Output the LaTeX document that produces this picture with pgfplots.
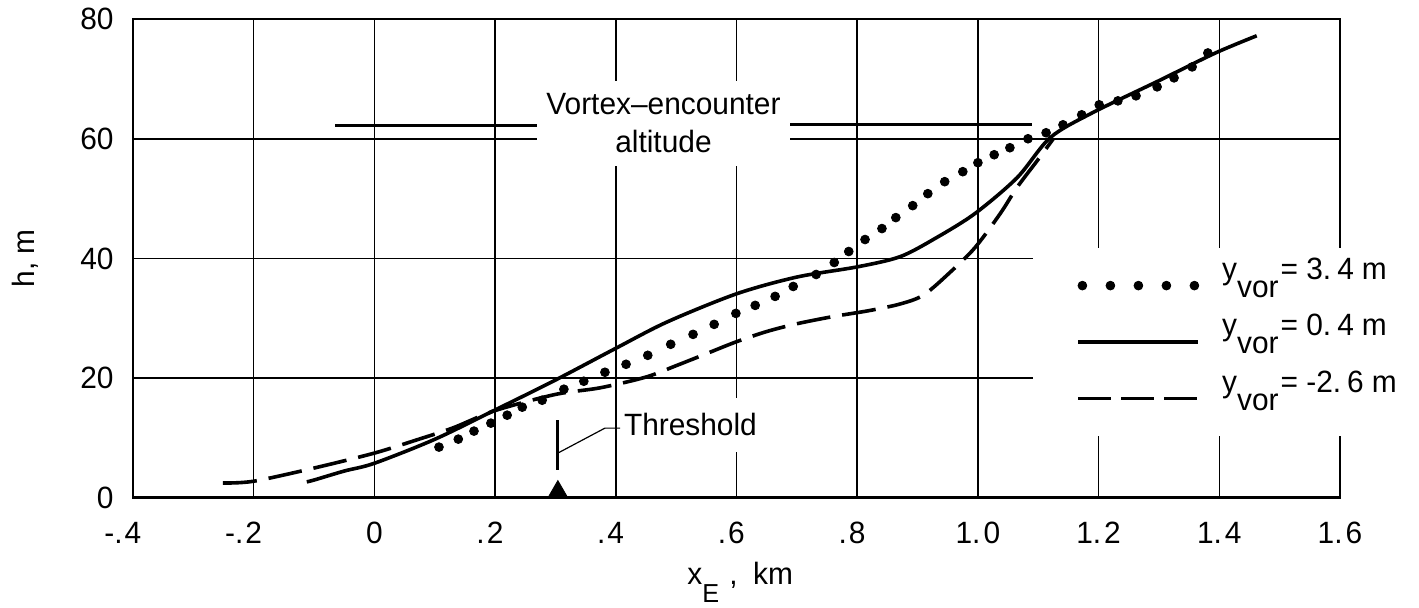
\documentclass[border=0pt]{standalone}
\usepackage{fontspec}
\setmainfont{Liberation Sans}[FakeStretch=0.97]
\usepackage{pgfplots}
\pgfplotsset{compat=1.18}
\newcommand{\fs}{\fontsize{15.4}{19}\selectfont}
\begin{document}
\begin{tikzpicture}[font=\fs]
\path[use as bounding box] (-66.5pt,-55pt) rectangle (643pt,249pt);
\begin{axis}[
  at={(0pt,0pt)}, anchor=south west,
  scale only axis, width=603.5pt, height=239.5pt,
  xmin=-0.4, xmax=1.6, ymin=0, ymax=80,
  xtick={-0.4,-0.2,0,0.2,0.4,0.6,0.8,1.0,1.2,1.4,1.6},
  xticklabels={\llap{-.\kern1pt}4,\llap{-.\kern1pt}2,0,\llap{.\kern1pt}2,\llap{.\kern1pt}4,\llap{.\kern1pt}6,\llap{.\kern1pt}8,1.\kern1.5pt 0,1.\kern1.5pt 2,1.\kern1.5pt 4,1.\kern1.5pt 6},
  ytick={0,20,40,60,80},
  yticklabels={0,20,40,60,80},
  major tick length=0pt,
  grid=major,
  grid style={black, line width=0.8pt},
  axis line style={black, line width=1pt},
  tick label style={font=\fs},
  xticklabel style={anchor=north, inner sep=0pt, yshift=-12pt},
  yticklabel style={anchor=east, inner sep=0pt, xshift=-9.5pt},
  xlabel={x\raisebox{-9pt}{\fontsize{13}{13}\selectfont E}\,\,,\enspace km},
  xlabel style={at={(axis description cs:0.503,-0.18)}, anchor=base, inner sep=0pt, font=\fs},
  ylabel={h, m},
  ylabel style={at={(axis description cs:-0.0895,0.5)}, anchor=center, inner sep=0pt, font=\fs},
  legend style={at={(0.745,0.522)}, anchor=north west, draw=none, fill=white,
    inner xsep=22pt, inner ysep=4.5pt, column sep=11pt, row sep=0pt, font=\fs,
    nodes={inner sep=0pt, text height=11pt, text depth=17.25pt}},
  legend cell align=left,
]
\addplot[only marks, mark=*, mark size=2.2pt, black,
  legend image code/.code={\foreach \x in {2pt,16pt,30pt,44pt,58pt}{\fill[black] (\x,0pt) circle (2.2pt);}}]
coordinates {
(0.107,8.50) (0.139,9.83) (0.165,11.17) (0.193,12.50) (0.220,13.83) (0.245,15.17)
(0.278,16.33) (0.314,18.17) (0.347,19.50) (0.382,21.00) (0.417,22.33) (0.453,23.83)
(0.491,25.67) (0.528,27.33) (0.563,29.00) (0.599,30.83) (0.631,32.17) (0.664,33.67)
(0.694,35.33) (0.732,37.33) (0.762,39.33) (0.786,41.17) (0.813,43.17) (0.841,45.00)
(0.864,46.83) (0.892,48.83) (0.917,50.83) (0.945,52.83) (0.975,54.50) (1.000,56.00)
(1.027,57.33) (1.053,58.50) (1.083,60.00) (1.113,61.00) (1.141,62.33) (1.172,64.00)
(1.201,65.67) (1.232,66.33) (1.262,67.17) (1.297,68.67) (1.325,70.17) (1.355,72.00)
(1.381,74.33)
};
\addlegendentry{y\raisebox{-9pt}{vor}\kern1pt= 3.\kern3pt 4\kern4pt m}
\addplot[black, line width=1.8pt, smooth,
  legend image code/.code={\draw[black, line width=1.8pt] (0pt,0pt) -- (60pt,0pt);}]
coordinates {
(-0.112,2.7) (-0.1,3.0) (-0.05,4.5) (0,5.8) (0.1,9.8) (0.2,14.7) (0.3,19.7)
(0.4,25) (0.485,29.4) (0.6,34.1) (0.7,36.9) (0.8,38.6) (0.871,40.3) (0.93,43.4)
(0.995,47.5) (1.065,53.5) (1.12,60.2) (1.189,64.3) (1.3,69.7) (1.393,74.3) (1.462,77.2)
};
\addlegendentry{y\raisebox{-9pt}{vor}\kern1pt= 0.\kern3pt 4\kern4pt m}
\addplot[black, line width=1.8pt, smooth, dash pattern=on 17pt off 6pt,
  legend image code/.code={\draw[black, line width=1.8pt, dash pattern=on 16.5pt off 5pt] (0pt,0pt) -- (60pt,0pt);}]
coordinates {
(-0.251,2.5) (-0.2,2.8) (-0.1,5.0) (0,7.5) (0.07,9.7) (0.13,11.7) (0.2,14.6)
(0.3,17.3) (0.374,18.4) (0.45,20.2) (0.5,22.1) (0.55,24.1) (0.6,26.1) (0.65,27.8)
(0.7,29.1) (0.76,30.3) (0.82,31.3) (0.871,32.4) (0.91,33.9) (0.954,37.7)
(0.995,41.8) (1.037,47.5) (1.065,51.9) (1.098,56.3) (1.125,60)
};
\addlegendentry{y\raisebox{-9pt}{vor}\kern1pt= -2.\kern3pt 6\kern4pt m}
% ground line
\draw[black, line width=1.7pt] (rel axis cs:0,0) -- (rel axis cs:1,0);
% threshold marker
\addplot[only marks, mark=triangle*, mark size=5.8pt, black, forget plot] coordinates {(0.304,0.97)};
\draw[black, line width=1.4pt] (axis cs:0.304,4.7) -- (axis cs:0.304,13);
\draw[black, line width=0.6pt] (axis cs:0.304,7.5) -- (axis cs:0.382,11.67) -- (axis cs:0.407,11.67);
\node[fill=white, anchor=west, inner sep=0pt, minimum width=67pt, minimum height=27pt, font=\fs]
  at (axis cs:0.412,12.2) {Threshold};
% vortex-encounter altitude
\draw[black, line width=1.5pt] (axis cs:-0.065,62.2) -- (axis cs:0.269,62.2);
\draw[black, line width=1.5pt] (axis cs:0.689,62.4) -- (axis cs:1.09,62.4);
\node[fill=white, inner sep=0pt, minimum width=126.5pt, minimum height=42.5pt, align=center, font=\fs]
  at (axis cs:0.479,62.6) {Vortex--encounter\\altitude};
\end{axis}
\end{tikzpicture}
\end{document}
